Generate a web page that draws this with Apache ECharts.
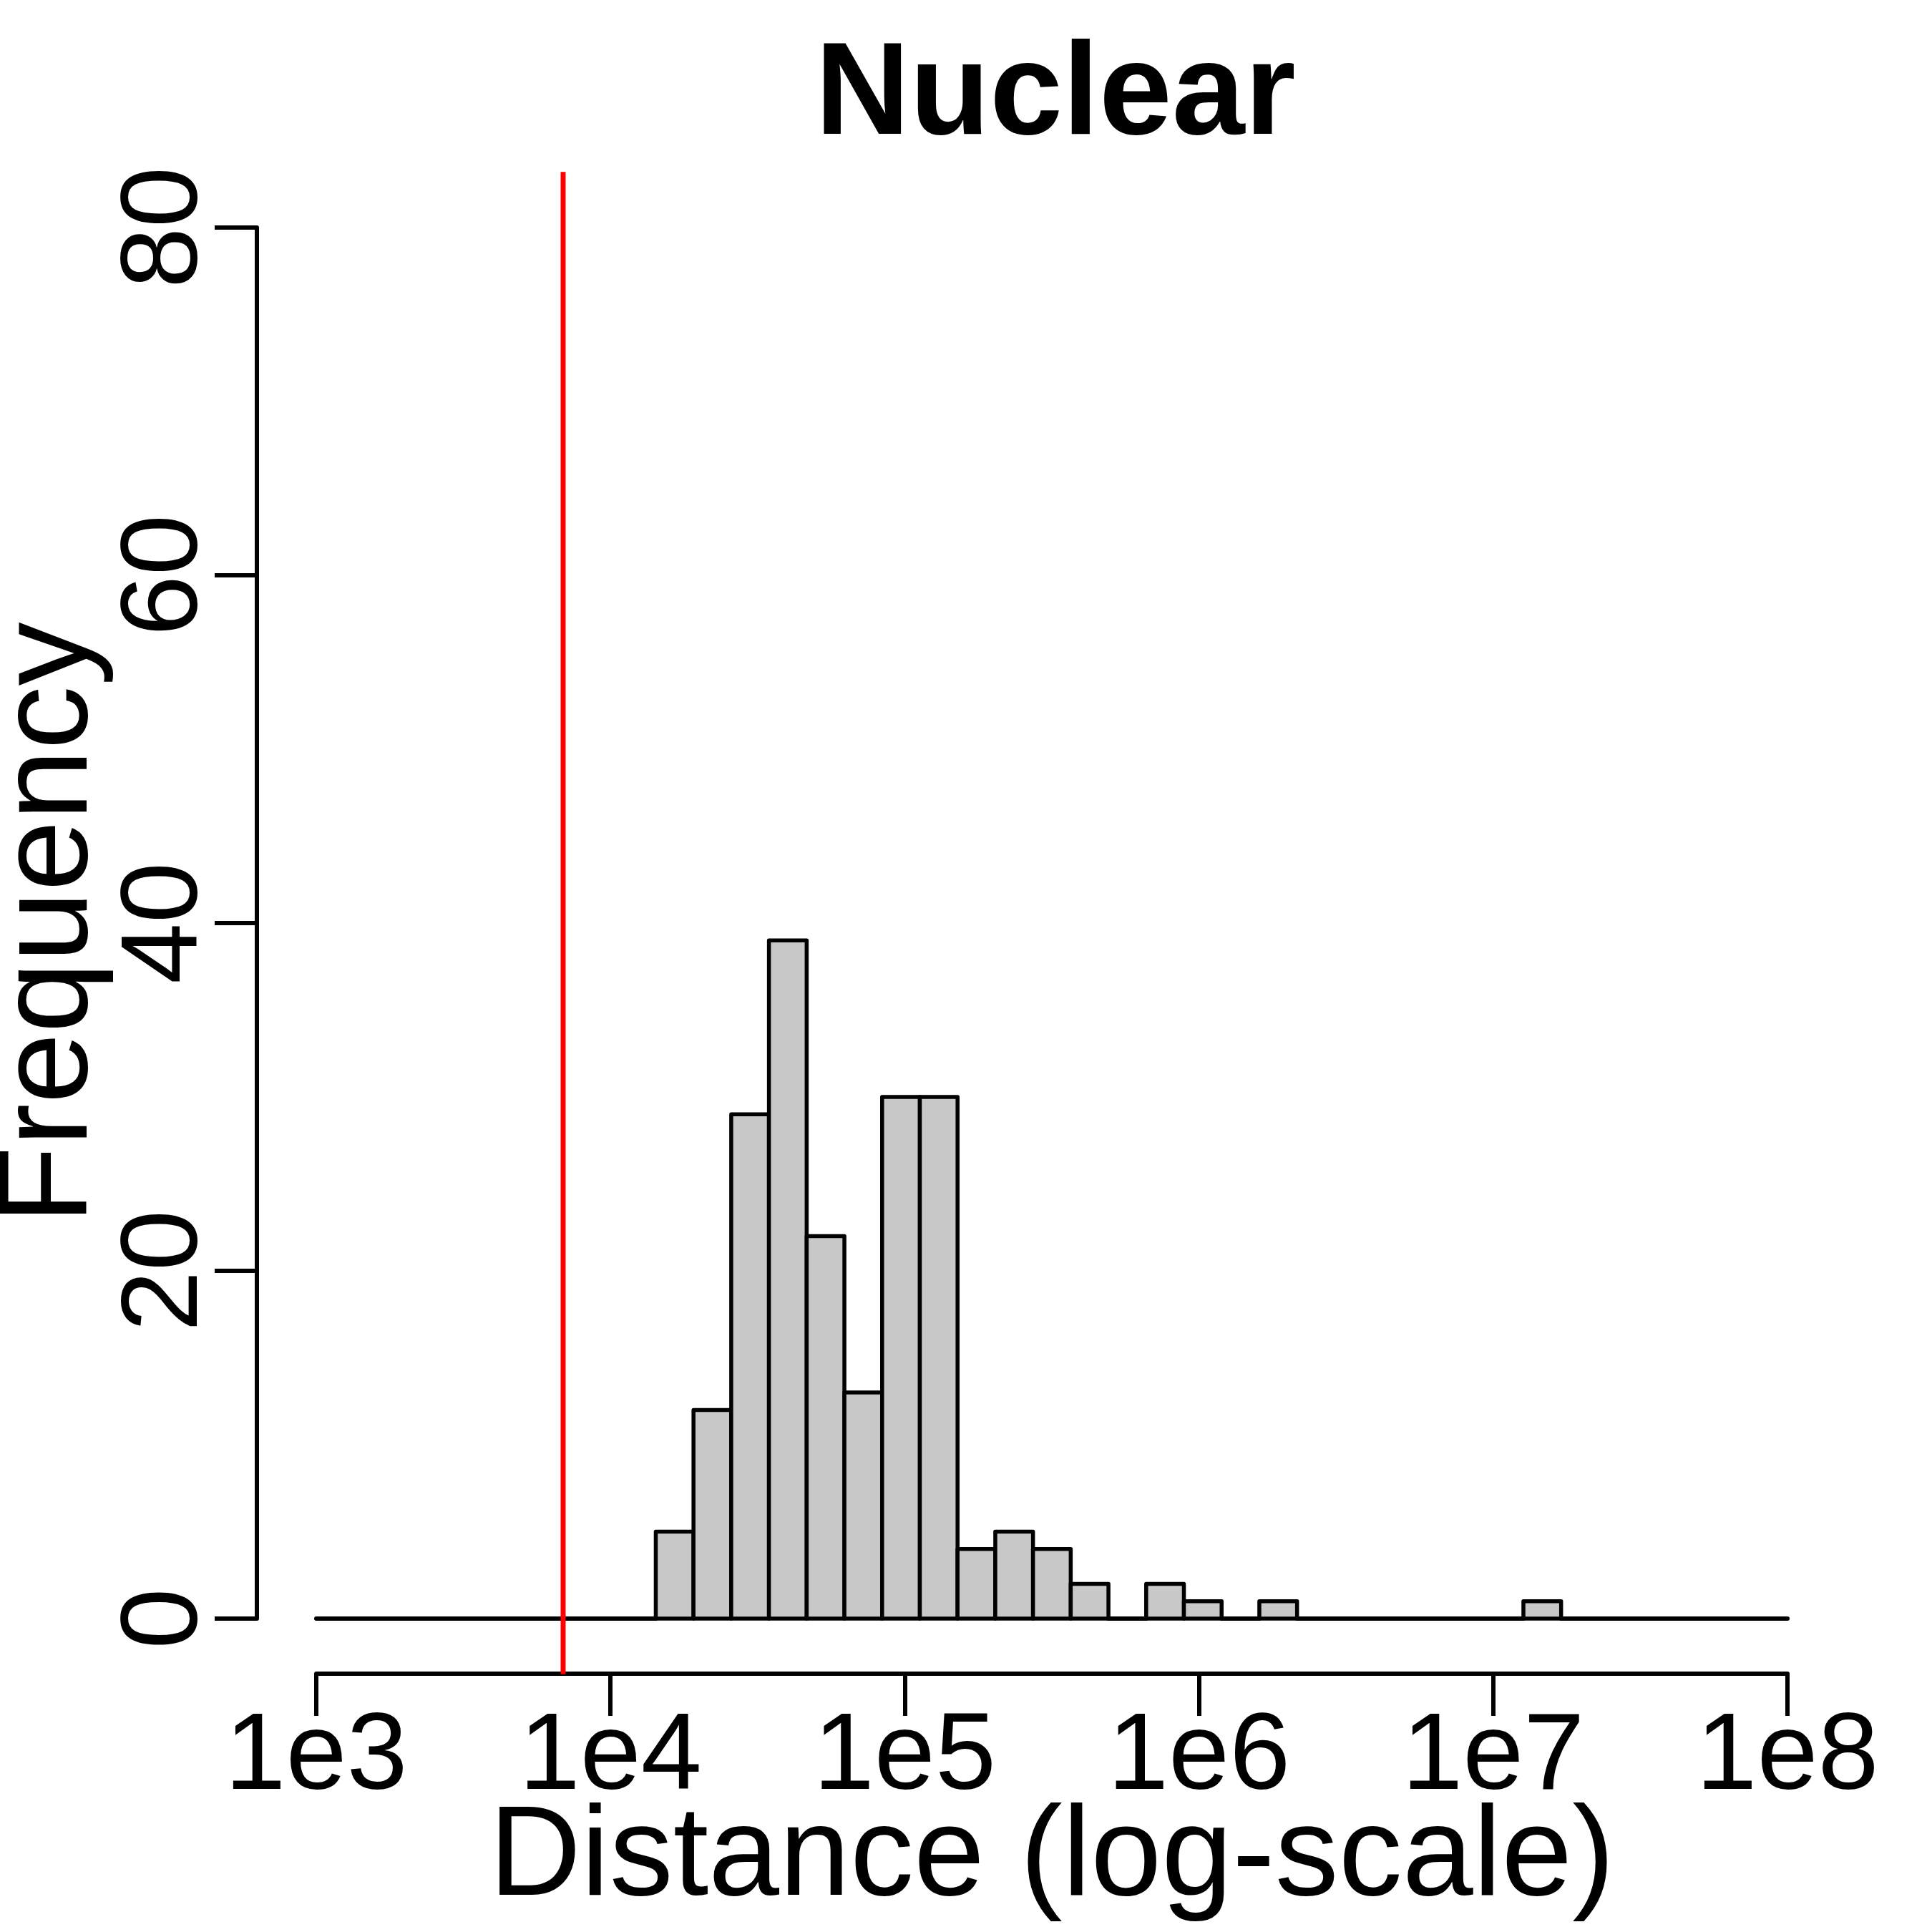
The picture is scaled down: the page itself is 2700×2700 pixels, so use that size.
<!DOCTYPE html>
<html>
<head>
<meta charset="utf-8">
<title>Nuclear</title>
<script src="https://cdn.jsdelivr.net/npm/echarts@6/dist/echarts.min.js"></script>
<style>
  html, body { margin: 0; padding: 0; background: #fff; }
  #hist { width: 2700px; height: 2700px; }
</style>
</head>
<body>
<div id="hist"></div>
<script>
// histogram of log10(distance): 39 equal bins from 1e3 to 1e8
var binLo = 3;
var binHi = 8;
var counts = [0, 0, 0, 0, 0, 0, 0, 0, 0, 5,
              12, 29, 39, 22, 13, 30, 30, 4, 5, 4,
              2, 0, 2, 1, 0, 1, 0, 0, 0, 0,
              0, 0, 1, 0, 0, 0, 0, 0, 0];
var xTicks = [3, 4, 5, 6, 7, 8];      // shown as 1e3 .. 1e8
var yTicks = [0, 20, 40, 60, 80];
var cutoff = 3.839;                   // red line, log10 distance (~6900)

var FONT = '"Liberation Sans", Arial, sans-serif';
var binW = (binHi - binLo) / counts.length;

var binData = counts.map(function (c, i) { return [i, c]; });

function renderBin(params, api) {
  var i = api.value(0), n = api.value(1);
  var x0 = binLo + i * binW, x1 = x0 + binW;
  var p0 = api.coord([x0, 0]);
  var p1 = api.coord([x1, n]);
  if (n === 0) {
    return {
      type: 'line',
      shape: { x1: p0[0], y1: p0[1], x2: p1[0], y2: p0[1] },
      style: { stroke: '#000', lineWidth: 6, lineCap: 'round' }
    };
  }
  return {
    type: 'rect',
    shape: { x: p0[0], y: p1[1], width: p1[0] - p0[0], height: p0[1] - p1[1] },
    style: { fill: '#c8c8c8', stroke: '#000', lineWidth: 5.5, lineJoin: 'round' }
  };
}

// vertical line over the whole plot region (R extends the range by 4%)
function renderCutoff(params, api) {
  var a = api.coord([api.value(0), -3.2]);
  var b = api.coord([api.value(0), 83.2]);
  return {
    type: 'line',
    shape: { x1: a[0], y1: a[1], x2: b[0], y2: b[1] },
    style: { stroke: '#ff0000', lineWidth: 7 }
  };
}

var chart = echarts.init(document.getElementById('hist'));

var option = {
  backgroundColor: '#fff',
  animation: false,
  title: {
    text: 'Nuclear',
    left: 1470,
    top: 40,
    textAlign: 'center',
    textStyle: { fontFamily: FONT, fontWeight: 'bold', fontSize: 183, color: '#000' }
  },
  grid: { left: 442, right: 202, top: 318, bottom: 438, outerBoundsMode: 'none', containLabel: false },
  xAxis: {
    type: 'value',
    min: xTicks[0],
    max: xTicks[xTicks.length - 1],
    interval: 1,
    offset: 77,
    name: 'Distance (log-scale)',
    nameLocation: 'middle',
    nameGap: 171,
    nameMoveOverlap: false,
    nameTextStyle: { fontFamily: FONT, fontSize: 178, color: '#000' },
    axisLine: { show: true, onZero: false, lineStyle: { color: '#000', width: 6 } },
    axisTick: { show: true, length: 59, lineStyle: { color: '#000', width: 6 } },
    axisLabel: {
      margin: 42,
      fontFamily: FONT,
      fontSize: 153,
      color: '#000',
      formatter: function (v) { return '1e' + v; }
    },
    splitLine: { show: false }
  },
  yAxis: {
    type: 'value',
    min: yTicks[0],
    max: yTicks[yTicks.length - 1],
    interval: 20,
    offset: 83,
    name: 'Frequency',
    nameLocation: 'middle',
    nameGap: 198,
    nameMoveOverlap: false,
    nameTextStyle: { fontFamily: FONT, fontSize: 178, color: '#000' },
    axisLine: { show: true, onZero: false, lineStyle: { color: '#000', width: 6 } },
    axisTick: { show: true, length: 59, lineStyle: { color: '#000', width: 6 } },
    axisLabel: {
      rotate: 90,
      margin: 50,
      fontFamily: FONT,
      fontSize: 153,
      color: '#000'
    },
    splitLine: { show: false }
  },
  series: [
    {
      type: 'custom',
      renderItem: renderBin,
      clip: false,
      data: binData,
      encode: { x: 0, y: 1 }
    },
    {
      type: 'custom',
      renderItem: renderCutoff,
      clip: false,
      data: [[cutoff, 0]],
      encode: { x: 0, y: 1 },
      z: 5
    }
  ]
};

chart.setOption(option);
</script>
</body>
</html>
